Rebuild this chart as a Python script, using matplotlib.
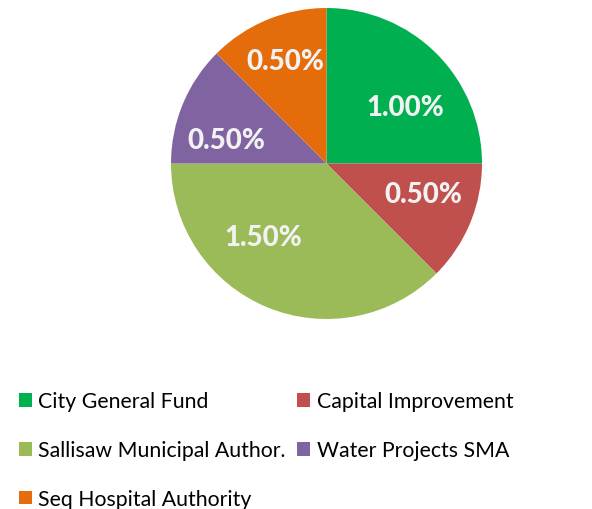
import numpy as np
import matplotlib
matplotlib.use("Agg")
import matplotlib.pyplot as plt
from matplotlib.patches import Patch

categories = ["City General Fund", "Capital Improvement", "Sallisaw Municipal Author.",
              "Water Projects SMA", "Seq Hospital Authority"]
values = [1.00, 0.50, 1.50, 0.50, 0.50]
colors = ["#00B050", "#C0504D", "#9BBB59", "#8064A2", "#E46C0A"]

# label placement (fraction of radius, angular offset from wedge middle in degrees)
lab_r = [0.62, 0.65, 0.625, 0.66, 0.71]
lab_dtheta = [-9.4, 5.0, -18.3, 9.5, -0.5]

plt.rcParams['font.family'] = ['Lato', 'DejaVu Sans']

W, H = 592, 510
fig = plt.figure(figsize=(W / 100, H / 100), dpi=100)
cx, cy, r = 326.5, 164.5, 155.5
ax = fig.add_axes([(cx - r) / W, (H - cy - r) / H, 2 * r / W, 2 * r / H])
wedges, _ = ax.pie(values, colors=colors, startangle=90, counterclock=False,
                   radius=1, wedgeprops=dict(linewidth=0))
ax.set_xlim(-1, 1)
ax.set_ylim(-1, 1)
ax.set_aspect('equal')
ax.axis('off')

for w, v, lr, dt in zip(wedges, values, lab_r, lab_dtheta):
    mid = np.deg2rad((w.theta1 + w.theta2) / 2 + dt)
    ax.text(lr * np.cos(mid), lr * np.sin(mid), f"{v:.2f}%", ha='center', va='center',
            color='#F2F2F2', fontsize=20, fontweight='black')

# row-major legend order for a 2-column legend (matplotlib fills column-major)
order = [0, 2, 4, 1, 3]
handles = [Patch(facecolor=colors[i], edgecolor='none') for i in order]
labels = [categories[i] for i in order]
fig.legend(handles, labels, loc='upper left', bbox_to_anchor=(10 / W, 1 - 384 / H),
           ncol=2, frameon=False, fontsize=15.3, handlelength=0.62, handleheight=0.62,
           handletextpad=0.3, columnspacing=0.55, labelspacing=1.35, borderaxespad=0)

fig.savefig("out.png", dpi=100)
